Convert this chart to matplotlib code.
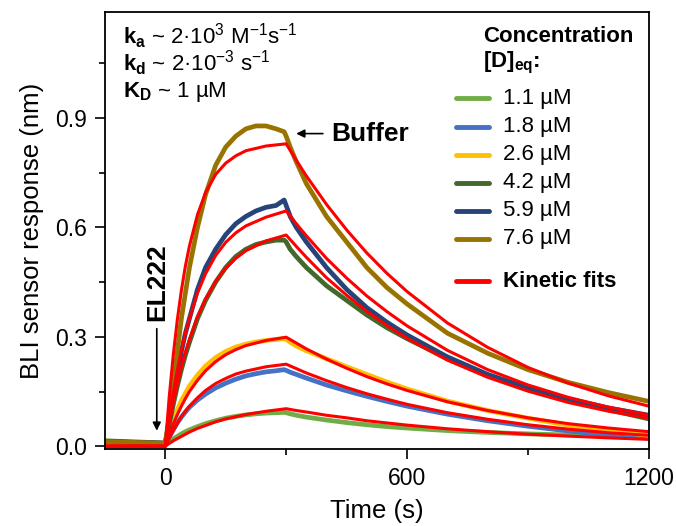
import matplotlib
matplotlib.use("Agg")
import matplotlib.pyplot as plt
import numpy as np

# ========================== Settings ==========================
plt.rcParams.update({
    "font.family": ["Liberation Sans", "DejaVu Sans"],
    "mathtext.fontset": "custom",
    "mathtext.rm": "Liberation Sans",
    "mathtext.it": "Liberation Sans:italic",
    "mathtext.bf": "Liberation Sans:bold",
})

# ========================== Data ==========================
conc_labels = ["1.1 µM", "1.8 µM", "2.6 µM", "4.2 µM", "5.9 µM", "7.6 µM"]
colors = ["#70AD47", "#4472C4", "#FFC000", "#43682B", "#264478", "#997300"]

# measured traces (s, nm)
data_t = [-150, -100, -50, 0, 10, 20, 30, 40, 50, 60, 80, 100, 125, 150, 175, 200, 225, 250, 275, 295,
          300, 310, 325, 350, 400, 450, 500, 550, 600, 700, 800, 900, 1000, 1100, 1200]
data_11 = [0.010, 0.009, 0.008, 0.007, 0.012, 0.020, 0.027, 0.034, 0.040, 0.045, 0.054, 0.062, 0.070, 0.077, 0.082,
           0.086, 0.089, 0.091, 0.092, 0.093, 0.092, 0.089, 0.085, 0.080, 0.072, 0.065, 0.059, 0.054, 0.050,
           0.043, 0.038, 0.034, 0.031, 0.028, 0.026]
data_18 = [0.012, 0.011, 0.010, 0.008, 0.025, 0.045, 0.064, 0.080, 0.094, 0.107, 0.127, 0.143, 0.160, 0.173, 0.184,
           0.193, 0.199, 0.204, 0.207, 0.210, 0.208, 0.203, 0.197, 0.187, 0.168, 0.152, 0.137, 0.123, 0.110,
           0.088, 0.070, 0.055, 0.042, 0.031, 0.022]
data_26 = [0.010, 0.009, 0.008, 0.007, 0.040, 0.075, 0.100, 0.125, 0.145, 0.165, 0.195, 0.220, 0.243, 0.260, 0.272,
           0.280, 0.286, 0.290, 0.293, 0.295, 0.293, 0.285, 0.275, 0.262, 0.240, 0.218, 0.197, 0.176, 0.157,
           0.124, 0.098, 0.077, 0.058, 0.042, 0.030]
data_42 = [0.015, 0.013, 0.011, 0.009, 0.060, 0.115, 0.165, 0.210, 0.250, 0.285, 0.350, 0.400, 0.450, 0.490, 0.520,
           0.540, 0.553, 0.560, 0.565, 0.565, 0.560, 0.540, 0.520, 0.490, 0.440, 0.400, 0.360, 0.325, 0.295,
           0.240, 0.195, 0.158, 0.128, 0.100, 0.075]
data_59 = [0.012, 0.011, 0.010, 0.008, 0.070, 0.140, 0.200, 0.260, 0.310, 0.350, 0.430, 0.490, 0.540, 0.580, 0.610,
           0.630, 0.645, 0.655, 0.660, 0.675, 0.660, 0.630, 0.600, 0.560, 0.490, 0.430, 0.380, 0.340, 0.305,
           0.245, 0.197, 0.160, 0.130, 0.105, 0.085]
data_76 = [0.013, 0.011, 0.010, 0.008, 0.080, 0.170, 0.260, 0.350, 0.420, 0.490, 0.600, 0.690, 0.770, 0.820, 0.850,
           0.870, 0.878, 0.878, 0.870, 0.862, 0.850, 0.820, 0.780, 0.720, 0.630, 0.560, 0.490, 0.435, 0.390,
           0.310, 0.255, 0.210, 0.175, 0.147, 0.123]

# kinetic fits
fit_t = [-150, 0, 10, 20, 30, 40, 50, 60, 80, 100, 125, 150, 175, 200, 250, 300,
         325, 350, 400, 450, 500, 550, 600, 700, 800, 900, 1000, 1100, 1200]
fit_11 = [0, 0, 0.008, 0.015, 0.021, 0.027, 0.033, 0.039, 0.049, 0.057, 0.067, 0.075, 0.081, 0.087, 0.096, 0.103,
          0.098, 0.094, 0.085, 0.078, 0.070, 0.064, 0.058, 0.048, 0.040, 0.033, 0.028, 0.023, 0.019]
fit_18 = [0, 0, 0.023, 0.044, 0.063, 0.081, 0.096, 0.110, 0.133, 0.153, 0.172, 0.186, 0.198, 0.206, 0.218, 0.225,
          0.213, 0.201, 0.180, 0.161, 0.144, 0.129, 0.115, 0.092, 0.074, 0.059, 0.047, 0.037, 0.030]
fit_26 = [0, 0, 0.032, 0.061, 0.087, 0.110, 0.131, 0.150, 0.181, 0.207, 0.232, 0.251, 0.265, 0.276, 0.290, 0.299,
          0.283, 0.267, 0.239, 0.214, 0.191, 0.171, 0.153, 0.122, 0.098, 0.078, 0.062, 0.050, 0.040]
fit_42 = [0, 0, 0.064, 0.121, 0.171, 0.217, 0.257, 0.293, 0.355, 0.404, 0.452, 0.488, 0.515, 0.536, 0.563, 0.579,
          0.548, 0.518, 0.462, 0.414, 0.370, 0.331, 0.296, 0.236, 0.189, 0.151, 0.120, 0.096, 0.077]
fit_59 = [0, 0, 0.079, 0.148, 0.209, 0.263, 0.310, 0.351, 0.420, 0.473, 0.523, 0.559, 0.585, 0.604, 0.628, 0.645,
          0.610, 0.577, 0.515, 0.461, 0.412, 0.369, 0.330, 0.263, 0.210, 0.168, 0.134, 0.107, 0.086]
fit_76 = [0, 0, 0.137, 0.251, 0.347, 0.427, 0.494, 0.549, 0.635, 0.695, 0.745, 0.776, 0.796, 0.810, 0.823, 0.829,
          0.784, 0.741, 0.663, 0.593, 0.530, 0.474, 0.424, 0.338, 0.271, 0.216, 0.173, 0.138, 0.110]

data_all = [data_11, data_18, data_26, data_42, data_59, data_76]
fit_all = [fit_11, fit_18, fit_26, fit_42, fit_59, fit_76]

# ========================== Plot ==========================
fig = plt.figure(figsize=(6.76, 5.26), dpi=100)
ax = fig.add_axes([0.155, 0.146, 0.805, 0.831])

for y, c in zip(data_all, colors):
    ax.plot(data_t, y, color=c, lw=3.4, solid_joinstyle="round")
for y in fit_all:
    ax.plot(fit_t, y, color="#FF0000", lw=2.2, solid_joinstyle="round")

ax.set_xlim(-150, 1200)
ax.set_ylim(-0.008, 1.19)
ax.set_xticks([0, 600, 1200])
ax.set_xticks([300, 900], minor=True)
ax.set_yticks([0, 0.3, 0.6, 0.9])
ax.set_yticks([0.15, 0.45, 0.75, 1.05], minor=True)
ax.set_yticklabels(["0.0", "0.3", "0.6", "0.9"])

ax.tick_params(which="major", direction="out", length=7, width=1.2, labelsize=16.5, pad=6)
ax.tick_params(which="minor", direction="out", length=4, width=1.2)
for s in ax.spines.values():
    s.set_linewidth(1.3)

ax.set_xlabel("Time (s)", fontsize=18.5, labelpad=6)
ax.set_ylabel("BLI sensor response (nm)", fontsize=18.5, labelpad=8)

# rate constants
ax.text(0.033, 0.945, r"$\mathbf{k_a}$ ~ 2·10$^{3}$ M$^{-1}$s$^{-1}$", transform=ax.transAxes,
        fontsize=16, va="center")
ax.text(0.033, 0.883, r"$\mathbf{k_d}$ ~ 2·10$^{-3}$ s$^{-1}$", transform=ax.transAxes,
        fontsize=16, va="center")
ax.text(0.033, 0.817, r"$\mathbf{K_D}$ ~ 1 µM", transform=ax.transAxes,
        fontsize=16, va="center")

# annotations
ax.annotate("", xy=(318, 0.857), xytext=(398, 0.857),
            arrowprops=dict(arrowstyle="-|>", color="black", lw=1.2, mutation_scale=12))
ax.text(412, 0.857, "Buffer", fontsize=19, fontweight="bold", va="center", ha="left")
ax.annotate("", xy=(-21, 0.035), xytext=(-21, 0.33),
            arrowprops=dict(arrowstyle="-|>", color="black", lw=1.2, mutation_scale=12))
ax.text(-21, 0.45, "EL222", fontsize=19, fontweight="bold", rotation=90, va="center", ha="center")

# legend (drawn by hand to get the gap before the fit entry)
ax.text(0.695, 0.945, "Concentration", transform=ax.transAxes, fontsize=16,
        fontweight="bold", va="center")
ax.text(0.695, 0.883, r"[D]$_\mathbf{eq}$:", transform=ax.transAxes, fontsize=16,
        fontweight="bold", va="center")
row_y = 0.8025
for lab, c in zip(conc_labels, colors):
    ax.plot([0.645, 0.706], [row_y, row_y], transform=ax.transAxes, color=c, lw=3.5,
            solid_capstyle="round")
    ax.text(0.732, row_y, lab, transform=ax.transAxes, fontsize=16, va="center")
    row_y -= 0.0643
row_y -= 0.032
ax.plot([0.645, 0.706], [row_y, row_y], transform=ax.transAxes, color="#FF0000", lw=3.5,
        solid_capstyle="round")
ax.text(0.732, row_y, "Kinetic fits", transform=ax.transAxes, fontsize=16, fontweight="bold",
        va="center")

fig.savefig("out.png", dpi=100)
